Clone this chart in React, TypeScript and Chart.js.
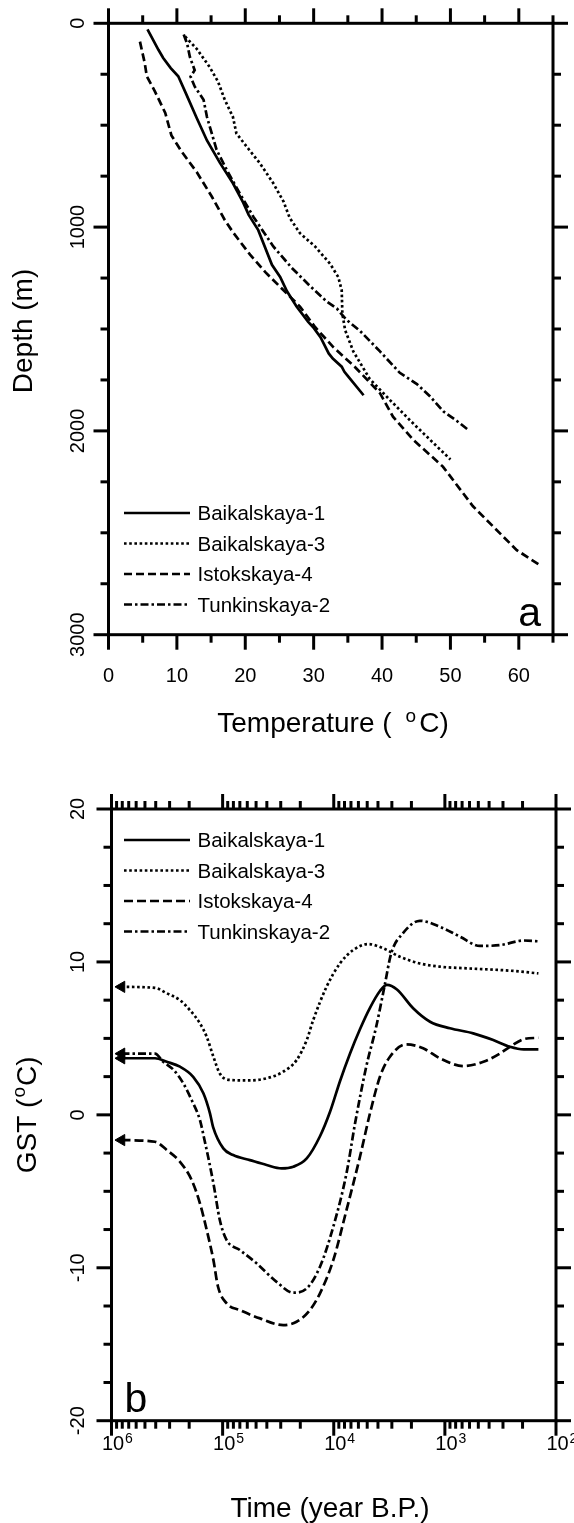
import React, { useEffect, useRef } from "react";
import { Chart, registerables } from "chart.js";

Chart.register(...registerables);

const FONT_FAMILY = '"Liberation Sans", Arial, Helvetica, sans-serif';
const font = (px: number) => `${px}px ${FONT_FAMILY}`;

const PAGE_W = 574;
const CANVAS_A_H = 760;
const CANVAS_B_H = 763;

const seriesNames = ["Baikalskaya-1", "Baikalskaya-3", "Istokskaya-4", "Tunkinskaya-2"];

// ---------------- Panel a : temperature (°C) vs depth (m) ----------------
const b1Temp = [5.7, 7.3, 8.0, 9.1, 10.2, 11.4, 12.9, 14.4, 16.3, 18.2, 19.7, 20.5, 21.9, 23.9, 25.1, 26.1, 27.5, 29.2, 29.9, 31.0, 32.2, 32.8, 34.1, 34.5, 35.1, 37.3];
const b1Depth = [30, 130, 170, 220, 260, 350, 465, 575, 685, 785, 880, 940, 1015, 1185, 1245, 1315, 1390, 1465, 1490, 1540, 1620, 1645, 1685, 1710, 1735, 1825];

const b3Temp = [11.2, 12.9, 14.8, 16.0, 17.0, 18.2, 18.7, 20.2, 22.1, 24.1, 25.6, 26.5, 28.0, 30.2, 32.4, 33.6, 34.1, 34.2, 34.6, 35.8, 38.2, 41.2, 44.6, 50.0];
const b3Depth = [65, 125, 215, 285, 375, 460, 540, 605, 685, 785, 875, 955, 1030, 1095, 1180, 1245, 1310, 1425, 1505, 1610, 1745, 1850, 1965, 2140];

const i4Temp = [4.6, 5.3, 5.6, 6.8, 8.3, 9.2, 10.7, 12.9, 15.1, 17.0, 18.3, 20.7, 22.9, 25.6, 28.0, 30.2, 32.9, 36.0, 39.7, 41.6, 44.6, 48.9, 53.3, 59.7, 62.9];
const i4Depth = [90, 195, 260, 335, 440, 550, 630, 730, 850, 965, 1030, 1135, 1220, 1310, 1390, 1490, 1590, 1685, 1815, 1930, 2045, 2175, 2370, 2585, 2655];

const t2Temp = [11.0, 11.5, 11.9, 12.6, 12.0, 12.6, 13.9, 14.4, 15.1, 15.8, 17.3, 19.2, 21.2, 24.1, 26.8, 29.5, 31.9, 33.4, 34.8, 36.8, 39.7, 42.6, 45.1, 47.0, 49.0, 50.9, 52.6];
const t2Depth = [55, 100, 165, 230, 262, 310, 375, 460, 540, 620, 720, 835, 950, 1095, 1200, 1290, 1365, 1400, 1455, 1510, 1610, 1715, 1770, 1830, 1905, 1950, 1995];

// ---------------- Panel b : GST (°C) vs time (years B.P.) ----------------
const b1Time = [813000, 406000, 318000, 242000, 184000, 149000, 130000, 122000, 98600, 80300, 56800, 40200, 29500, 23100, 17500, 13300, 10800, 8790, 7150, 5810, 4720, 3840, 3320, 2700, 1930, 1360, 900, 556, 367, 260, 195, 144];
const b1Gst = [3.7, 3.7, 3.47, 3.15, 2.49, 1.41, 0.1, -0.78, -2.19, -2.63, -2.96, -3.28, -3.5, -3.39, -2.85, -1.4, 0.2, 2.2, 4.0, 5.6, 7.0, 8.1, 8.5, 8.2, 6.97, 6.09, 5.66, 5.33, 4.89, 4.45, 4.28, 4.28];

const b3Time = [813000, 406000, 318000, 242000, 197000, 160000, 139000, 121000, 106000, 85900, 56800, 40200, 28500, 21600, 17500, 15300, 11600, 8790, 6680, 4900, 3590, 2540, 1680, 1110, 637, 260, 144];
const b3Gst = [8.37, 8.3, 7.95, 7.5, 6.85, 5.98, 5.1, 3.8, 2.7, 2.28, 2.25, 2.39, 2.82, 3.58, 4.89, 6.2, 8.38, 9.9, 10.78, 11.17, 10.89, 10.34, 9.9, 9.69, 9.58, 9.43, 9.25];

const i4Time = [813000, 406000, 318000, 242000, 190000, 160000, 139000, 121000, 110000, 92000, 70000, 46000, 28500, 21600, 16400, 13300, 10100, 7680, 5810, 4720, 3840, 3120, 2220, 1570, 1110, 680, 450, 318, 260, 195, 144];
const i4Gst = [-1.65, -1.76, -2.3, -3.07, -4.26, -5.79, -7.53, -9.5, -11.24, -12.33, -12.77, -13.31, -13.75, -13.53, -12.77, -11.67, -9.5, -6.23, -2.74, 0.1, 2.49, 3.8, 4.61, 4.35, 3.7, 3.19, 3.47, 4.02, 4.45, 4.95, 5.04];

const t2Time = [813000, 406000, 342000, 275000, 226000, 190000, 160000, 150000, 121000, 106000, 92000, 70000, 49500, 32700, 23100, 17500, 13300, 10100, 7680, 6410, 5100, 4150, 3500, 3040, 2390, 1680, 1110, 730, 484, 318, 195, 144];
const t2Gst = [4.0, 4.0, 3.47, 2.93, 2.06, 0.97, -0.34, -1.21, -4.48, -6.88, -8.19, -8.84, -9.71, -10.92, -11.63, -11.35, -9.93, -7.32, -3.83, -0.5, 3.15, 5.76, 8.38, 10.56, 11.87, 12.69, 12.3, 11.65, 11.05, 11.1, 11.4, 11.35];

// ---------------- axes ----------------
const tempMajorTicks = [0, 10, 20, 30, 40, 50, 60];
const tempMinorTicks = [5, 15, 25, 35, 45, 55, 65];
const depthMajorTicks = [0, 1000, 2000, 3000];
const depthMinorTicks = [250, 500, 750, 1250, 1500, 1750, 2250, 2500, 2750];
const gstMajorTicks = [-20, -10, 0, 10, 20];
const gstMinorTicks = [-17.5, -15, -12.5, -7.5, -5, -2.5, 2.5, 5, 7.5, 12.5, 15, 17.5];
const timeMajorExponents = [6, 5, 4, 3, 2];
const timeMinorMultipliers = [2, 3, 4, 5, 6, 7, 8, 9];
const timeMinorDecades = [100, 1000, 10000, 100000];

const dashesA = [[], [2.6, 2.6], [8, 4], [8, 3, 2.5, 3]];
const dashesB = [[], [2.6, 2.6], [9, 4], [8, 3, 2.5, 3]];

const MAJOR_LEN = 15;
const MINOR_LEN = 8;
const LINE_W = 2.7;

function seg(ctx: CanvasRenderingContext2D, x1: number, y1: number, x2: number, y2: number) {
  ctx.beginPath();
  ctx.moveTo(x1, y1);
  ctx.lineTo(x2, y2);
  ctx.stroke();
}

function drawFrameAndTicks(chart: any, xMajor: number[], xMinor: number[], yMajor: number[], yMinor: number[]) {
  const { ctx, chartArea: a } = chart;
  const xs = chart.scales.x;
  const ys = chart.scales.y;
  ctx.save();
  ctx.setLineDash([]);
  ctx.strokeStyle = "#000";
  ctx.lineWidth = 3;
  ctx.lineCap = "butt";
  ctx.strokeRect(a.left, a.top, a.right - a.left, a.bottom - a.top);
  const xg: [number[], number][] = [[xMajor, MAJOR_LEN], [xMinor, MINOR_LEN]];
  for (const [vals, len] of xg) {
    for (const v of vals) {
      const p = xs.getPixelForValue(v);
      seg(ctx, p, a.bottom, p, a.bottom + len);
      seg(ctx, p, a.top, p, a.top - len);
    }
  }
  const yg: [number[], number][] = [[yMajor, MAJOR_LEN], [yMinor, MINOR_LEN]];
  for (const [vals, len] of yg) {
    for (const v of vals) {
      const p = ys.getPixelForValue(v);
      seg(ctx, a.left, p, a.left - len, p);
      seg(ctx, a.right, p, a.right + len, p);
    }
  }
  ctx.restore();
}

type Part = { text?: string; size?: number; rise?: number; gap?: number };

function partsWidth(ctx: CanvasRenderingContext2D, parts: Part[]) {
  let w = 0;
  for (const p of parts) {
    if (p.gap) w += p.gap;
    if (p.text) {
      ctx.font = font(p.size || 20);
      w += ctx.measureText(p.text).width;
    }
  }
  return w;
}

function drawParts(ctx: CanvasRenderingContext2D, parts: Part[], x: number, baseY: number) {
  let cx = x;
  ctx.textAlign = "left";
  ctx.textBaseline = "alphabetic";
  for (const p of parts) {
    if (p.gap) cx += p.gap;
    if (p.text) {
      ctx.font = font(p.size || 20);
      ctx.fillText(p.text, cx, baseY - (p.rise || 0));
      cx += ctx.measureText(p.text).width;
    }
  }
}

function drawCenteredParts(ctx: CanvasRenderingContext2D, parts: Part[], cx: number, baseY: number) {
  const w = partsWidth(ctx, parts);
  drawParts(ctx, parts, cx - w / 2, baseY);
}

function drawRotatedParts(ctx: CanvasRenderingContext2D, parts: Part[], baseX: number, cy: number) {
  ctx.save();
  ctx.translate(baseX, cy);
  ctx.rotate(-Math.PI / 2);
  const w = partsWidth(ctx, parts);
  drawParts(ctx, parts, -w / 2, 0);
  ctx.restore();
}

function drawLegend(chart: any, rowYs: number[]) {
  const { ctx } = chart;
  ctx.save();
  ctx.strokeStyle = "#000";
  ctx.fillStyle = "#000";
  ctx.lineWidth = LINE_W;
  ctx.font = font(20.5);
  ctx.textAlign = "left";
  ctx.textBaseline = "alphabetic";
  chart.data.datasets.forEach((ds: any, i: number) => {
    const y = rowYs[i];
    ctx.setLineDash(ds.borderDash || []);
    seg(ctx, 124, y, 190, y);
    ctx.setLineDash([]);
    ctx.fillText(ds.label, 197.5, y + 7.3);
  });
  ctx.restore();
}

function lineDataset(label: string, xs: number[], ys: number[], dash: number[], extra: any = {}) {
  return {
    label,
    data: xs.map((x, i) => ({ x, y: ys[i] })),
    showLine: true,
    borderColor: "#000",
    backgroundColor: "#000",
    borderWidth: LINE_W,
    borderDash: dash,
    pointRadius: 0,
    fill: false,
    tension: 0,
    ...extra,
  };
}

const panelAPlugin = {
  id: "panelAAxes",
  afterDatasetsDraw(chart: any) {
    const { ctx, chartArea: a } = chart;
    const xs = chart.scales.x;
    const ys = chart.scales.y;
    drawFrameAndTicks(chart, tempMajorTicks, tempMinorTicks, depthMajorTicks, depthMinorTicks);
    ctx.save();
    ctx.fillStyle = "#000";
    ctx.font = font(20);
    ctx.textAlign = "center";
    ctx.textBaseline = "alphabetic";
    for (const v of tempMajorTicks) {
      ctx.fillText(String(v), xs.getPixelForValue(v), a.bottom + 46.8);
    }
    for (const v of depthMajorTicks) {
      drawRotatedParts(ctx, [{ text: String(v), size: 20 }], 83.5, ys.getPixelForValue(v));
    }
    drawCenteredParts(
      ctx,
      [
        { text: "Temperature (", size: 28 },
        { gap: 14 },
        { text: "o", size: 19, rise: 10 },
        { gap: 3 },
        { text: "C)", size: 28 },
      ],
      333,
      731.7
    );
    drawRotatedParts(ctx, [{ text: "Depth (m)", size: 28 }], 31.5, (a.top + a.bottom) / 2 + 2);
    ctx.font = font(41);
    ctx.textAlign = "right";
    ctx.fillText("a", a.right - 12, a.bottom - 8.5);
    ctx.restore();
    const r0 = a.bottom - 121.7;
    drawLegend(chart, [r0, r0 + 30.5, r0 + 61, r0 + 91.5]);
  },
};

const panelBPlugin = {
  id: "panelBAxes",
  afterDatasetsDraw(chart: any) {
    const { ctx, chartArea: a } = chart;
    const xs = chart.scales.x;
    const ys = chart.scales.y;
    const timeMajor = timeMajorExponents.map((e) => Math.pow(10, e));
    const timeMinor: number[] = [];
    for (const d of timeMinorDecades) for (const m of timeMinorMultipliers) timeMinor.push(m * d);
    drawFrameAndTicks(chart, timeMajor, timeMinor, gstMajorTicks, gstMinorTicks);
    ctx.save();
    ctx.fillStyle = "#000";
    ctx.textBaseline = "alphabetic";
    timeMajorExponents.forEach((e) => {
      const p = xs.getPixelForValue(Math.pow(10, e)) + 1.5;
      ctx.font = font(20);
      ctx.textAlign = "center";
      const w = ctx.measureText("10").width;
      ctx.fillText("10", p, a.bottom + 29.3);
      ctx.font = font(14);
      ctx.textAlign = "left";
      ctx.fillText(String(e), p + w / 2 + 1, a.bottom + 29.3 - 7);
    });
    for (const v of gstMajorTicks) {
      drawRotatedParts(ctx, [{ text: String(v), size: 20 }], 83.5, ys.getPixelForValue(v));
    }
    drawCenteredParts(ctx, [{ text: "Time (year B.P.)", size: 28 }], 330, 756.5);
    drawRotatedParts(
      ctx,
      [
        { text: "GST (", size: 28 },
        { gap: 1 },
        { text: "o", size: 19, rise: 11 },
        { gap: 1 },
        { text: "C)", size: 28 },
      ],
      36,
      (a.top + a.bottom) / 2
    );
    ctx.font = font(41);
    ctx.textAlign = "left";
    ctx.fillText("b", a.left + 13, a.bottom - 8.5);
    ctx.restore();
    const r0 = a.top + 31;
    drawLegend(chart, [r0, r0 + 30.5, r0 + 61, r0 + 91.5]);
  },
};

function arrowExtra(n: number) {
  return {
    pointRadius: Array.from({ length: n }, (_, i) => (i === 0 ? 6.5 : 0)),
    pointStyle: "triangle",
    pointRotation: 270,
    pointBackgroundColor: "#000",
    pointBorderColor: "#000",
    pointBorderWidth: 1,
    cubicInterpolationMode: "monotone",
  };
}

export default function App() {
  const refA = useRef<HTMLCanvasElement | null>(null);
  const refB = useRef<HTMLCanvasElement | null>(null);

  useEffect(() => {
    const chartA = new Chart(refA.current as HTMLCanvasElement, {
      type: "scatter",
      data: {
        datasets: [
          lineDataset(seriesNames[0], b1Temp, b1Depth, dashesA[0]),
          lineDataset(seriesNames[1], b3Temp, b3Depth, dashesA[1]),
          lineDataset(seriesNames[2], i4Temp, i4Depth, dashesA[2]),
          lineDataset(seriesNames[3], t2Temp, t2Depth, dashesA[3]),
        ] as any,
      },
      options: {
        responsive: false,
        animation: false,
        devicePixelRatio: 1,
        events: [],
        layout: { padding: { left: 108.5, right: PAGE_W - 553, top: 23.3, bottom: CANVAS_A_H - 634.7 } },
        plugins: { legend: { display: false }, tooltip: { enabled: false } },
        scales: {
          x: { type: "linear", min: 0, max: 65, display: false },
          y: { type: "linear", min: 0, max: 3000, reverse: true, display: false },
        },
      } as any,
      plugins: [panelAPlugin],
    });

    const chartB = new Chart(refB.current as HTMLCanvasElement, {
      type: "scatter",
      data: {
        datasets: [
          lineDataset(seriesNames[0], b1Time, b1Gst, dashesB[0], arrowExtra(b1Time.length)),
          lineDataset(seriesNames[1], b3Time, b3Gst, dashesB[1], arrowExtra(b3Time.length)),
          lineDataset(seriesNames[2], i4Time, i4Gst, dashesB[2], arrowExtra(i4Time.length)),
          lineDataset(seriesNames[3], t2Time, t2Gst, dashesB[3], arrowExtra(t2Time.length)),
        ] as any,
      },
      options: {
        responsive: false,
        animation: false,
        devicePixelRatio: 1,
        events: [],
        layout: { padding: { left: 111.5, right: PAGE_W - 556, top: 49, bottom: CANVAS_B_H - 660.7 } },
        plugins: { legend: { display: false }, tooltip: { enabled: false } },
        scales: {
          x: { type: "logarithmic", min: 100, max: 1000000, reverse: true, display: false },
          y: { type: "linear", min: -20, max: 20, display: false },
        },
      } as any,
      plugins: [panelBPlugin],
    });

    return () => {
      chartA.destroy();
      chartB.destroy();
    };
  }, []);

  return (
    <div style={{ position: "absolute", left: 0, top: 0, width: PAGE_W, height: CANVAS_A_H + CANVAS_B_H, background: "#fff" }}>
      <canvas
        ref={refA}
        width={PAGE_W}
        height={CANVAS_A_H}
        style={{ position: "absolute", left: 0, top: 0, width: PAGE_W, height: CANVAS_A_H }}
      />
      <canvas
        ref={refB}
        width={PAGE_W}
        height={CANVAS_B_H}
        style={{ position: "absolute", left: 0, top: CANVAS_A_H, width: PAGE_W, height: CANVAS_B_H }}
      />
    </div>
  );
}
